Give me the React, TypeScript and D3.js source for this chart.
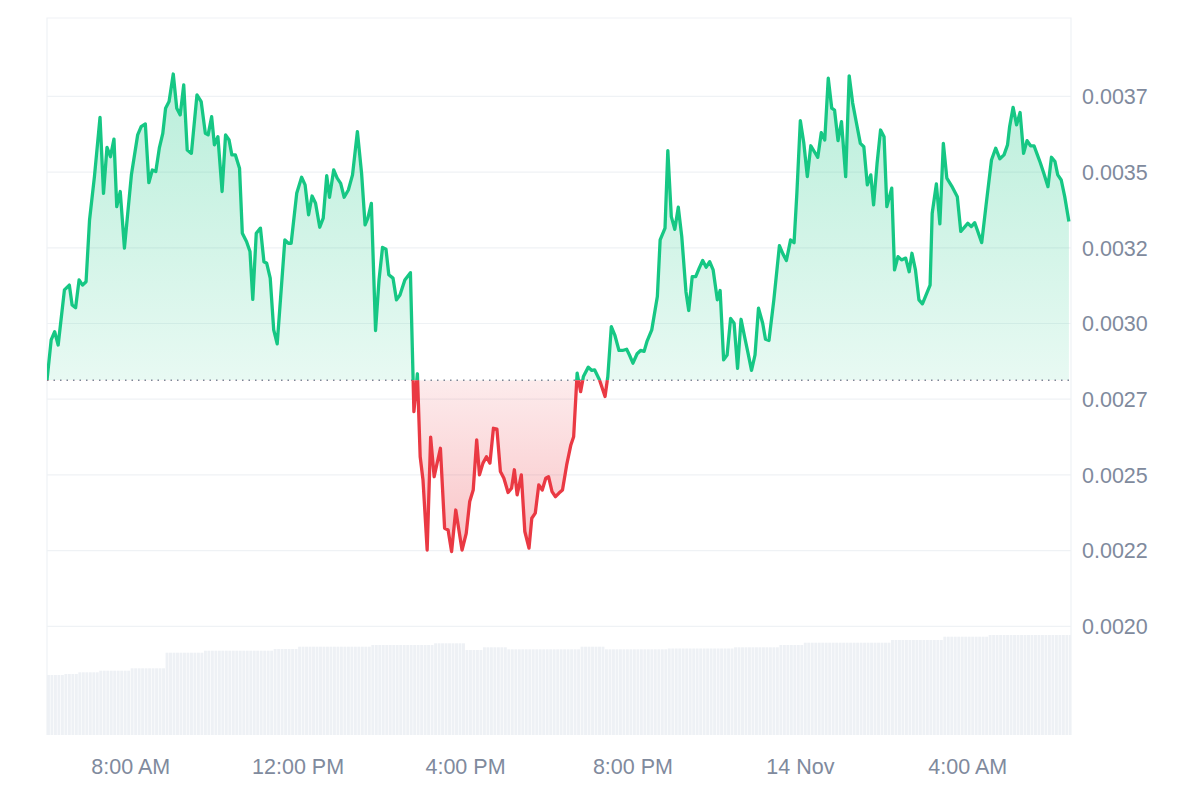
import { useEffect, useRef } from 'react';
import * as d3 from 'd3';

// minutes after 13 Nov 06:00, price in USD
const startTime = new Date(2024, 10, 13, 6, 0);
const endMinute = 1468;
const openPrice = 0.002763;

const priceSeries: [number, number][] = [
  [0, 0.002763], [6, 0.002896], [11, 0.002923], [16, 0.002879], [25, 0.003061], [32, 0.003077], [36, 0.003011],
  [41, 0.003002], [46, 0.003094], [51, 0.003077], [56, 0.003088], [61, 0.003292], [68, 0.003435], [76, 0.003631],
  [81, 0.00338], [86, 0.003532], [91, 0.003501], [96, 0.003559], [100, 0.003336], [105, 0.003386], [111, 0.003199],
  [121, 0.003441], [130, 0.003573], [135, 0.0036], [141, 0.003609], [146, 0.003415], [151, 0.003457], [156, 0.003452],
  [161, 0.003529], [166, 0.003578], [170, 0.003661], [175, 0.003683], [181, 0.003774], [186, 0.003661], [191, 0.003639],
  [196, 0.003738], [201, 0.003523], [207, 0.003512], [215, 0.003705], [221, 0.003683], [227, 0.003578], [231, 0.003573],
  [236, 0.003633], [240, 0.00354], [245, 0.003567], [251, 0.003386], [256, 0.003573], [261, 0.003556], [265, 0.003507],
  [270, 0.003507], [276, 0.003463], [280, 0.003248], [286, 0.003221], [291, 0.003188], [295, 0.00303], [300, 0.003248],
  [306, 0.003265], [311, 0.003154], [315, 0.003149], [320, 0.0031], [325, 0.002929], [330, 0.002883], [341, 0.003226],
  [346, 0.003215], [350, 0.003215], [358, 0.00338], [365, 0.003433], [370, 0.003408], [375, 0.003309], [380, 0.003371],
  [385, 0.003347], [391, 0.003268], [396, 0.003298], [401, 0.003438], [405, 0.003367], [411, 0.003457], [416, 0.00343],
  [421, 0.003413], [426, 0.003367], [432, 0.003391], [438, 0.003441], [445, 0.003584], [451, 0.003446], [456, 0.003276],
  [460, 0.003298], [465, 0.003347], [471, 0.002927], [476, 0.003094], [481, 0.003201], [486, 0.003195], [490, 0.003111],
  [496, 0.0031], [501, 0.003028], [506, 0.003044], [513, 0.003094], [521, 0.003118], [526, 0.002659], [531, 0.002784],
  [535, 0.00251], [539, 0.002434], [545, 0.002202], [550, 0.002575], [555, 0.002444], [564, 0.002538], [570, 0.002274],
  [575, 0.002268], [580, 0.002197], [586, 0.002334], [595, 0.002202], [601, 0.002257], [606, 0.002362], [611, 0.0024],
  [616, 0.002566], [620, 0.00245], [625, 0.002489], [630, 0.00251], [635, 0.002489], [640, 0.002604], [645, 0.002601],
  [650, 0.002461], [655, 0.002439], [661, 0.002392], [666, 0.002406], [670, 0.002467], [674, 0.002384], [680, 0.00245],
  [685, 0.002263], [691, 0.002208], [695, 0.002307], [700, 0.002324], [705, 0.002417], [710, 0.0024], [715, 0.002439],
  [719, 0.002444], [724, 0.002395], [729, 0.002378], [734, 0.00239], [739, 0.0024], [745, 0.002483], [751, 0.002549],
  [755, 0.002576], [760, 0.002786], [765, 0.002725], [769, 0.002775], [776, 0.002806], [781, 0.002795], [785, 0.002797],
  [792, 0.002764], [800, 0.002709], [804, 0.002775], [809, 0.00294], [814, 0.002912], [820, 0.002861], [825, 0.002861],
  [831, 0.002865], [835, 0.002846], [840, 0.002819], [846, 0.00285], [851, 0.002861], [856, 0.002858], [860, 0.00289],
  [867, 0.002929], [875, 0.003039], [879, 0.003226], [886, 0.003265], [890, 0.003521], [895, 0.003303], [900, 0.003261],
  [905, 0.003334], [910, 0.003237], [916, 0.003055], [920, 0.002993], [925, 0.003105], [930, 0.003105], [935, 0.003133],
  [940, 0.003158], [945, 0.003136], [950, 0.003154], [955, 0.003127], [961, 0.003028], [965, 0.003059], [970, 0.00283],
  [975, 0.002846], [980, 0.002967], [985, 0.002951], [990, 0.002802], [995, 0.002964], [1000, 0.002907], [1005, 0.002852],
  [1010, 0.002795], [1015, 0.002846], [1020, 0.003001], [1026, 0.002951], [1030, 0.002898], [1035, 0.002894], [1042, 0.003028],
  [1050, 0.003207], [1055, 0.00318], [1060, 0.003158], [1066, 0.003226], [1071, 0.003217], [1075, 0.00338], [1080, 0.00362],
  [1085, 0.003545], [1090, 0.003435], [1095, 0.003537], [1101, 0.003514], [1105, 0.003499], [1110, 0.00358], [1115, 0.003556],
  [1120, 0.00376], [1125, 0.003661], [1129, 0.003655], [1134, 0.003554], [1139, 0.003617], [1145, 0.003435], [1150, 0.003768],
  [1155, 0.003678], [1160, 0.003617], [1166, 0.003545], [1171, 0.003534], [1176, 0.003408], [1181, 0.003441], [1185, 0.003342],
  [1190, 0.003479], [1195, 0.003589], [1200, 0.003567], [1204, 0.003336], [1211, 0.003397], [1215, 0.003127], [1220, 0.003171],
  [1225, 0.00316], [1231, 0.003166], [1236, 0.003121], [1240, 0.003182], [1245, 0.003127], [1250, 0.003028], [1255, 0.003015],
  [1266, 0.003077], [1269, 0.003314], [1275, 0.003411], [1280, 0.003279], [1285, 0.003545], [1290, 0.00343], [1297, 0.003404],
  [1305, 0.003369], [1310, 0.003254], [1316, 0.00327], [1320, 0.003281], [1325, 0.00327], [1330, 0.003283], [1340, 0.003217],
  [1346, 0.003336], [1354, 0.00349], [1360, 0.003529], [1366, 0.003494], [1372, 0.003507], [1377, 0.00354], [1380, 0.0036],
  [1385, 0.003664], [1390, 0.003606], [1395, 0.003647], [1400, 0.003512], [1405, 0.003554], [1410, 0.003537], [1415, 0.003537],
  [1419, 0.003512], [1424, 0.003481], [1429, 0.003446], [1435, 0.003402], [1440, 0.003499], [1445, 0.003485], [1449, 0.003441],
  [1454, 0.003424], [1459, 0.003369], [1465, 0.003287],
];

// one bar per 5 minutes, thousands USD
const volumeStep = 5;
const volumes = [
  600, 600, 600, 600, 600, 610, 610, 610, 610, 627, 627, 627, 627, 627, 627,
  643, 643, 643, 643, 643, 643, 643, 643, 643, 667, 667, 667, 667, 667, 667, 667, 667, 667, 667,
  823, 823, 823, 823, 823, 823, 823, 823, 823, 823, 823,
  843, 843, 843, 843, 843, 843, 843, 843, 843, 843, 843, 843, 843, 843, 843, 843, 843, 843, 843, 843,
  860, 860, 860, 860, 860, 860, 860,
  883, 883, 883, 883, 883, 883, 883, 883, 883, 883, 883, 883, 883, 883, 883, 883, 883, 883, 883, 883, 883,
  900, 900, 900, 900, 900, 900, 900, 900, 900, 900, 900, 900, 900, 900, 900, 900, 900, 900,
  917, 917, 917, 917, 917, 917, 917, 917, 917,
  850, 850, 850, 850, 850, 877, 877, 877, 877, 877, 877, 877,
  857, 857, 857, 857, 857, 857, 857, 857, 857, 857, 857, 857, 857, 857, 857, 857, 857, 857, 857, 857, 857,
  883, 883, 883, 883, 883, 883, 883,
  857, 857, 857, 857, 857, 857, 857, 857, 857, 857, 857, 857, 857, 857, 857, 857, 857, 857,
  865, 865, 865, 865, 865, 865, 865, 865, 865, 865, 865, 865, 865, 865, 865, 865, 865, 865, 865,
  877, 877, 877, 877, 877, 877, 877, 877, 877, 877, 877, 877, 877,
  900, 900, 900, 900, 900, 900, 900,
  923, 923, 923, 923, 923, 923, 923, 923, 923, 923, 923, 923, 923, 923, 923, 923, 923, 923, 923, 923, 923, 923, 923, 923, 923,
  950, 950, 950, 950, 950, 950, 950, 950, 950, 950, 950, 950, 950, 950, 950,
  983, 983, 983, 983, 983, 983, 983, 983, 983, 983, 983, 983, 983,
  1000, 1000, 1000, 1000, 1000, 1000, 1000, 1000, 1000, 1000, 1000, 1000,
  1000, 1000, 1000, 1000, 1000, 1000, 1000, 1000, 1000, 1000, 1000, 1000,
];

const yTickValues = [0.00195, 0.0022, 0.00245, 0.0027, 0.00295, 0.0032, 0.00345, 0.0037];
const yTickLabels = ['0.0020', '0.0022', '0.0025', '0.0027', '0.0030', '0.0032', '0.0035', '0.0037'];

const GREEN = '#16c784';
const RED = '#ea3943';
const GRID = '#eff2f5';
const TEXT = '#808a9d';
const FONT = '"Liberation Sans", Arial, sans-serif';

export default function App() {
  const svgRef = useRef<SVGSVGElement>(null);

  useEffect(() => {
    if (!svgRef.current) return;
    const svg = d3.select(svgRef.current);
    svg.selectAll('*').remove();

    const left = 47, right = 1071, top = 18, bottom = 735;
    const toDate = (m: number) => new Date(startTime.getTime() + m * 60000);

    const x = d3.scaleTime().domain([toDate(0), toDate(endMinute)]).range([left, right]);
    const y = d3.scaleLinear().domain([0.001591, 0.003959]).range([bottom, top]);
    const yVol = d3.scaleLinear().domain([0, 1000]).range([bottom, bottom - 100]);
    const yBase = y(openPrice);

    const defs = svg.append('defs');
    const yMax = y(d3.max(priceSeries, d => d[1]) as number);
    const yMin = y(d3.min(priceSeries, d => d[1]) as number);

    const gGreen = defs.append('linearGradient').attr('id', 'gradGreen')
      .attr('gradientUnits', 'userSpaceOnUse').attr('x1', 0).attr('x2', 0).attr('y1', yMax).attr('y2', yBase);
    gGreen.append('stop').attr('offset', 0).attr('stop-color', GREEN).attr('stop-opacity', 0.3);
    gGreen.append('stop').attr('offset', 1).attr('stop-color', GREEN).attr('stop-opacity', 0.1);

    const gRed = defs.append('linearGradient').attr('id', 'gradRed')
      .attr('gradientUnits', 'userSpaceOnUse').attr('x1', 0).attr('x2', 0).attr('y1', yBase).attr('y2', yMin);
    gRed.append('stop').attr('offset', 0).attr('stop-color', RED).attr('stop-opacity', 0.1);
    gRed.append('stop').attr('offset', 1).attr('stop-color', RED).attr('stop-opacity', 0.3);

    defs.append('clipPath').attr('id', 'clipAbove').append('rect')
      .attr('x', left).attr('y', top - 5).attr('width', right - left).attr('height', yBase - top + 5);
    defs.append('clipPath').attr('id', 'clipBelow').append('rect')
      .attr('x', left).attr('y', yBase).attr('width', right - left).attr('height', bottom - yBase);
    defs.append('clipPath').attr('id', 'clipPlot').append('rect')
      .attr('x', left).attr('y', top).attr('width', right - left).attr('height', bottom - top);

    // grid
    svg.append('g').selectAll('line').data(yTickValues).join('line')
      .attr('x1', left).attr('x2', right)
      .attr('y1', d => y(d)).attr('y2', d => y(d))
      .attr('stroke', GRID).attr('stroke-width', 1.2);

    // frame
    svg.append('path')
      .attr('d', `M${left},${bottom}V${top}H${right}V${bottom}`)
      .attr('fill', 'none').attr('stroke', GRID).attr('stroke-width', 1.2);

    // volume
    const barW = x(toDate(volumeStep)) - x(toDate(0));
    svg.append('g').attr('clip-path', 'url(#clipPlot)')
      .selectAll('rect').data(volumes).join('rect')
      .attr('x', (_, i) => x(toDate(i * volumeStep)))
      .attr('y', d => yVol(d))
      .attr('width', barW - 0.6)
      .attr('height', d => bottom - yVol(d))
      .attr('fill', '#eef1f5');

    const area = d3.area<[number, number]>()
      .x(d => x(toDate(d[0])))
      .y0(yBase)
      .y1(d => y(d[1]));
    const line = d3.line<[number, number]>()
      .x(d => x(toDate(d[0])))
      .y(d => y(d[1]));

    svg.append('path').datum(priceSeries).attr('d', area)
      .attr('fill', 'url(#gradGreen)').attr('clip-path', 'url(#clipAbove)');
    svg.append('path').datum(priceSeries).attr('d', area)
      .attr('fill', 'url(#gradRed)').attr('clip-path', 'url(#clipBelow)');

    // open price reference
    svg.append('line')
      .attr('x1', left).attr('x2', right).attr('y1', yBase).attr('y2', yBase)
      .attr('stroke', '#7d8596').attr('stroke-width', 1.5).attr('stroke-dasharray', '1.5 5');

    svg.append('path').datum(priceSeries).attr('d', line)
      .attr('fill', 'none').attr('stroke', GREEN).attr('stroke-width', 3.3)
      .attr('stroke-linejoin', 'round').attr('clip-path', 'url(#clipAbove)');
    svg.append('path').datum(priceSeries).attr('d', line)
      .attr('fill', 'none').attr('stroke', RED).attr('stroke-width', 3.3)
      .attr('stroke-linejoin', 'round').attr('clip-path', 'url(#clipBelow)');

    // y labels
    svg.append('g').selectAll('text').data(yTickValues).join('text')
      .attr('x', 1082).attr('y', d => y(d)).attr('dy', '0.36em')
      .attr('fill', TEXT).style('font-family', FONT).style('font-size', '21.5px')
      .text((_, i) => yTickLabels[i]);

    // x labels
    const fmt = (d: Date) => d.getHours() === 0 ? d3.timeFormat('%-d %b')(d) : d3.timeFormat('%-I:%M %p')(d);
    svg.append('g').selectAll('text').data(x.ticks(d3.timeHour.every(4) as d3.TimeInterval)).join('text')
      .attr('x', d => x(d)).attr('y', 774).attr('text-anchor', 'middle')
      .attr('fill', TEXT).style('font-family', FONT).style('font-size', '21.5px')
      .text(d => fmt(d));
  }, []);

  return (
    <div style={{ position: 'absolute', left: 0, top: 0, background: '#fff' }}>
      <svg ref={svgRef} width={1200} height={800} />
    </div>
  );
}
